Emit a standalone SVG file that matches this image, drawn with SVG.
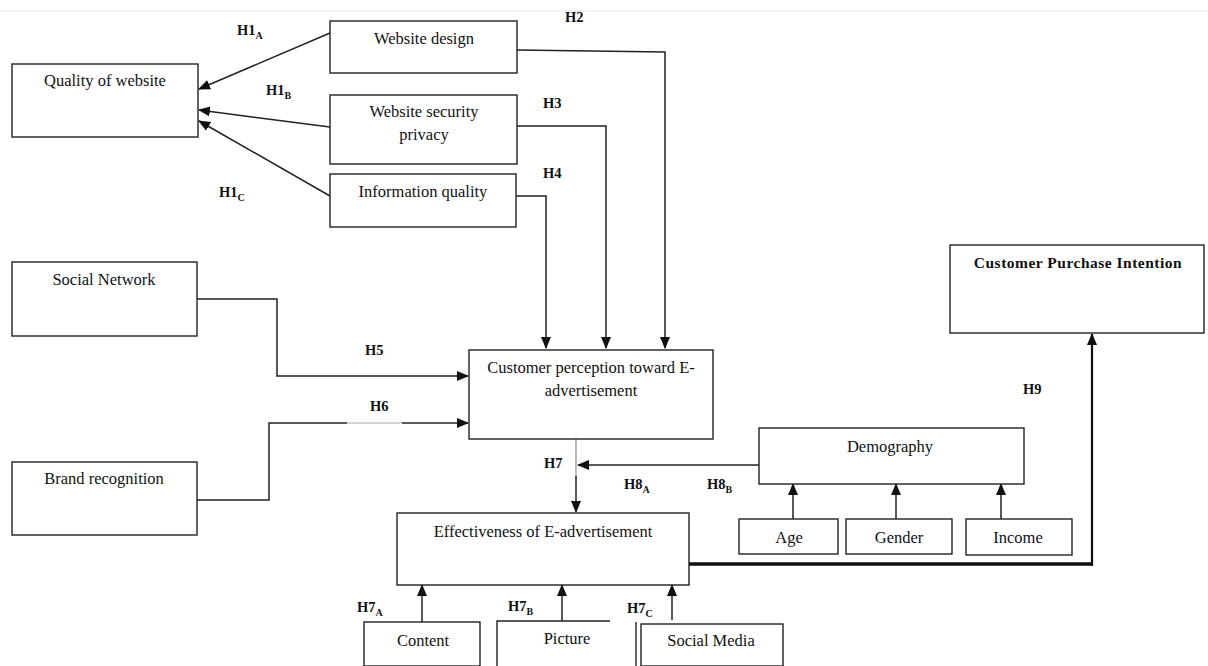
<svg xmlns="http://www.w3.org/2000/svg" width="1208" height="666" viewBox="0 0 1208 666">
<defs>
<style>
.box{fill:#fff;stroke:#222;stroke-width:1.4}
.t{font-family:"Liberation Serif",serif;font-size:16.5px;fill:#111;text-anchor:middle}
.h{font-family:"Liberation Serif",serif;font-size:14.5px;font-weight:bold;fill:#111}
.s{font-size:10px}
.c{fill:none;stroke:#222;stroke-width:1.5}
</style>
<marker id="ah" markerWidth="12" markerHeight="10" refX="11" refY="5" orient="auto" markerUnits="userSpaceOnUse">
<path d="M0,0 L12,5 L0,10 Z" fill="#111"/>
</marker>
</defs>
<rect width="1208" height="666" fill="#fff"/>
<line x1="0" y1="11" x2="1208" y2="11" stroke="#e6e6e6" stroke-width="1"/>

<g id="connectors">
<line class="c" x1="330" y1="33" x2="199" y2="89" marker-end="url(#ah)"/>
<line class="c" x1="330" y1="127" x2="199" y2="110" marker-end="url(#ah)"/>
<line class="c" x1="330" y1="196" x2="199" y2="121" marker-end="url(#ah)"/>
<polyline class="c" points="517,50 665,52 665,348" marker-end="url(#ah)"/>
<polyline class="c" points="517,126 606,126 606,348" marker-end="url(#ah)"/>
<polyline class="c" points="516,196 546,196 546,348" marker-end="url(#ah)"/>
<polyline class="c" points="197,299 277,299 277,376 468,376" marker-end="url(#ah)"/>
<polyline class="c" points="197,500 269,500 269,423 347,423"/>
<line x1="347" y1="423" x2="402" y2="423" stroke="#aaa" stroke-width="1.2"/>
<line class="c" x1="402" y1="423" x2="468" y2="423" marker-end="url(#ah)"/>
<line x1="576" y1="439" x2="576" y2="478" stroke="#999" stroke-width="1.3"/>
<line class="c" x1="576" y1="476" x2="576" y2="512" marker-end="url(#ah)"/>
<line class="c" x1="760" y1="465" x2="578" y2="465" marker-end="url(#ah)"/>
<line class="c" x1="793" y1="519" x2="793" y2="484" marker-end="url(#ah)"/>
<line class="c" x1="896" y1="519" x2="896" y2="484" marker-end="url(#ah)"/>
<line class="c" x1="1001" y1="519" x2="1001" y2="484" marker-end="url(#ah)"/>
<line class="c" x1="422" y1="622" x2="422" y2="585" marker-end="url(#ah)"/>
<line class="c" x1="562" y1="621" x2="562" y2="585" marker-end="url(#ah)"/>
<line class="c" x1="672" y1="620" x2="672" y2="585" marker-end="url(#ah)"/>
<polyline points="689,564 1091,564" fill="none" stroke="#111" stroke-width="3.5"/>
<line x1="1092" y1="566" x2="1092" y2="334" stroke="#111" stroke-width="2.2" marker-end="url(#ah)"/>
</g>

<g id="quality"><rect class="box" x="12" y="64" width="186" height="73"/><text class="t" x="105" y="86">Quality of website</text></g>
<g id="design"><rect class="box" x="330" y="21" width="187" height="52"/><text class="t" x="424" y="44">Website design</text></g>
<g id="security"><rect class="box" x="330" y="95" width="187" height="69"/><text class="t" x="424" y="117">Website security</text><text class="t" x="424" y="140">privacy</text></g>
<g id="info"><rect class="box" x="330" y="174" width="186" height="53"/><text class="t" x="423" y="197">Information quality</text></g>
<g id="social"><rect class="box" x="12" y="262" width="185" height="74"/><text class="t" x="104" y="285">Social Network</text></g>
<g id="brand"><rect class="box" x="12" y="462" width="185" height="73"/><text class="t" x="104" y="484">Brand recognition</text></g>
<g id="perception"><rect class="box" x="469" y="350" width="244" height="89"/><text class="t" x="591" y="373">Customer perception toward E-</text><text class="t" x="591" y="396">advertisement</text></g>
<g id="purchase"><rect class="box" x="950" y="245" width="254" height="88"/><text x="1078" y="268" font-family="Liberation Serif,serif" font-size="15.5" font-weight="bold" fill="#111" text-anchor="middle" letter-spacing="0.5">Customer Purchase Intention</text></g>
<g id="demography"><rect class="box" x="759" y="428" width="265" height="56"/><text class="t" x="890" y="452">Demography</text></g>
<g id="age"><rect class="box" x="739" y="519" width="99" height="35"/><text class="t" x="789" y="543">Age</text></g>
<g id="gender"><rect class="box" x="846" y="519" width="106" height="35"/><text class="t" x="899" y="543">Gender</text></g>
<g id="income"><rect class="box" x="966" y="519" width="106" height="36"/><text class="t" x="1018" y="543">Income</text></g>
<g id="effectiveness"><rect class="box" x="397" y="513" width="292" height="72"/><text class="t" x="543" y="537">Effectiveness of E-advertisement</text></g>
<g id="content"><rect class="box" x="364" y="622" width="116" height="44"/><text class="t" x="423" y="646">Content</text></g>
<g id="picture"><polyline points="610,621 497,621 497,666" fill="none" stroke="#222" stroke-width="1.4"/><line x1="636" y1="622" x2="636" y2="666" stroke="#222" stroke-width="1.4"/><text class="t" x="567" y="644">Picture</text></g>
<g id="socialmedia"><rect class="box" x="641" y="624" width="142" height="42"/><text class="t" x="711" y="646">Social Media</text></g>

<g id="labels">
<text class="h" x="237" y="35">H1<tspan class="s" dy="4">A</tspan></text>
<text class="h" x="266" y="95">H1<tspan class="s" dy="4">B</tspan></text>
<text class="h" x="219" y="197">H1<tspan class="s" dy="4">C</tspan></text>
<text class="h" x="565" y="22">H2</text>
<text class="h" x="543" y="108">H3</text>
<text class="h" x="543" y="178">H4</text>
<text class="h" x="365" y="355">H5</text>
<text class="h" x="370" y="411">H6</text>
<text class="h" x="544" y="468">H7</text>
<text class="h" x="624" y="489">H8<tspan class="s" dy="4">A</tspan></text>
<text class="h" x="707" y="489">H8<tspan class="s" dy="4">B</tspan></text>
<text class="h" x="1023" y="394">H9</text>
<text class="h" x="357" y="612">H7<tspan class="s" dy="4">A</tspan></text>
<text class="h" x="508" y="611">H7<tspan class="s" dy="4">B</tspan></text>
<text class="h" x="627" y="613">H7<tspan class="s" dy="4">C</tspan></text>
</g>
</svg>
